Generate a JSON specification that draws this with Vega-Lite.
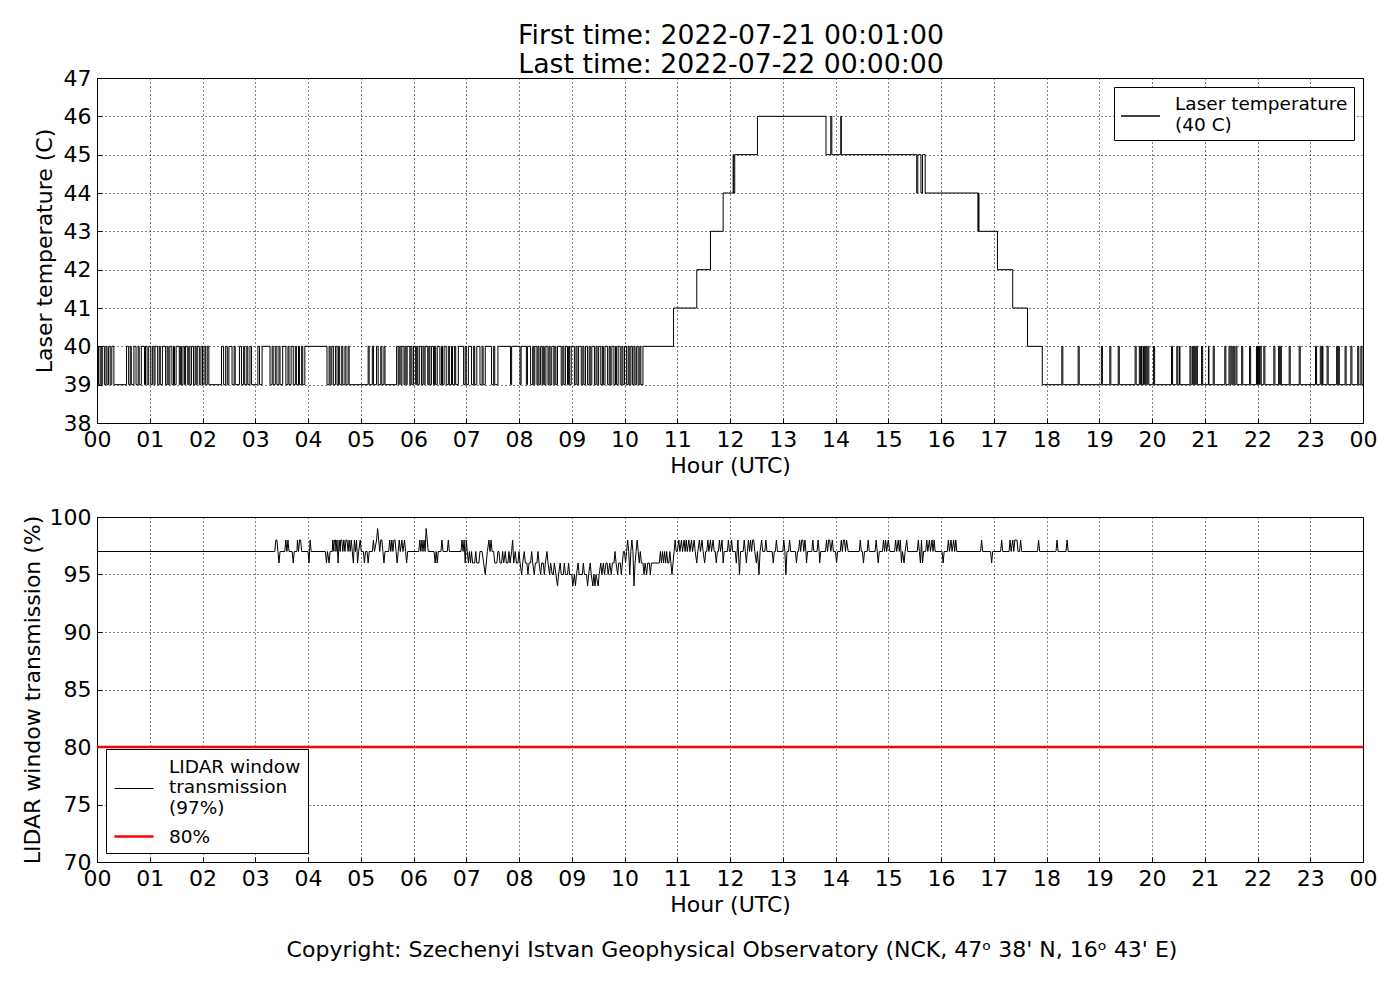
{
  "$schema": "https://vega.github.io/schema/vega-lite/v6.json",
  "padding": {"left": 20, "top": 22, "right": 20, "bottom": 10},
  "background": "white",
  "title": {
    "text": ["First time: 2022-07-21 00:01:00", "Last time: 2022-07-22 00:00:00"],
    "fontSize": 26.7,
    "fontWeight": "normal",
    "font": "DejaVu Sans",
    "color": "black",
    "lineHeight": 29,
    "anchor": "middle",
    "dx": 32,
    "offset": -12
  },
  "config": {
    "font": "DejaVu Sans",
    "view": {"stroke": "black", "strokeWidth": 1},
    "axis": {
      "labelFont": "DejaVu Sans",
      "labelFontSize": 22,
      "labelColor": "black",
      "labelFlush": false,
      "titleFont": "DejaVu Sans",
      "titleFontSize": 22,
      "titleFontWeight": "normal",
      "titleColor": "black",
      "grid": true,
      "gridColor": "black",
      "gridDash": [1, 3],
      "gridOpacity": 1,
      "gridWidth": 1,
      "domain": false,
      "ticks": true,
      "tickSize": -5,
      "tickColor": "black",
      "labelPadding": 11,
      "titlePadding": 5
    },
    "legend": {
      "labelFont": "DejaVu Sans",
      "labelFontSize": 18.5,
      "labelColor": "black",
      "symbolType": "stroke",
      "symbolSize": 400,
      "strokeColor": "black",
      "fillColor": "white",
      "padding": 6,
      "cornerRadius": 0,
      "labelOffset": 33,
      "rowPadding": 8,
      "offset": 9,
      "labelLimit": 400
    }
  },
  "datasets": {
    "temp": [
      {"t":0,"v":40},{"t":0.03,"v":39},{"t":0.06,"v":40},{"t":0.08,"v":39},{"t":0.10,"v":40},{"t":0.14,"v":39},{"t":0.17,"v":40},{"t":0.19,"v":39},{"t":0.22,"v":40},{"t":0.25,"v":39},{"t":0.28,"v":40},{"t":0.32,"v":39},{"t":0.56,"v":40},{"t":0.60,"v":39},{"t":0.63,"v":40},{"t":0.65,"v":39},{"t":0.70,"v":40},{"t":0.74,"v":39},{"t":0.78,"v":40},{"t":0.80,"v":39},{"t":0.84,"v":40},{"t":0.90,"v":39},{"t":0.92,"v":40},{"t":0.95,"v":39},{"t":0.98,"v":40},{"t":1.02,"v":39},
      {"t":1.05,"v":40},{"t":1.08,"v":39},{"t":1.10,"v":40},{"t":1.15,"v":39},{"t":1.18,"v":40},{"t":1.20,"v":39},{"t":1.24,"v":40},{"t":1.30,"v":39},{"t":1.33,"v":40},{"t":1.35,"v":39},{"t":1.38,"v":40},{"t":1.42,"v":39},{"t":1.45,"v":40},{"t":1.47,"v":39},{"t":1.50,"v":40},{"t":1.56,"v":39},{"t":1.58,"v":40},{"t":1.60,"v":39},{"t":1.63,"v":40},{"t":1.66,"v":39},{"t":1.68,"v":40},{"t":1.72,"v":39},{"t":1.74,"v":40},{"t":1.76,"v":39},{"t":1.79,"v":40},{"t":1.83,"v":39},{"t":1.86,"v":40},{"t":1.88,"v":39},{"t":1.90,"v":40},{"t":1.94,"v":39},{"t":1.97,"v":40},{"t":2.00,"v":39},
      {"t":2.03,"v":40},{"t":2.06,"v":39},{"t":2.09,"v":40},{"t":2.12,"v":39},{"t":2.36,"v":40},{"t":2.40,"v":39},{"t":2.44,"v":40},{"t":2.47,"v":39},{"t":2.50,"v":40},{"t":2.56,"v":39},{"t":2.60,"v":40},{"t":2.62,"v":39},{"t":2.70,"v":40},{"t":2.74,"v":39},{"t":2.78,"v":40},{"t":2.80,"v":39},{"t":2.84,"v":40},{"t":2.86,"v":39},{"t":2.90,"v":40},{"t":2.93,"v":39},
      {"t":3.05,"v":40},{"t":3.08,"v":39},{"t":3.13,"v":40},{"t":3.28,"v":39},{"t":3.32,"v":40},{"t":3.34,"v":39},{"t":3.38,"v":40},{"t":3.41,"v":39},{"t":3.45,"v":40},{"t":3.47,"v":39},{"t":3.52,"v":40},{"t":3.58,"v":39},{"t":3.62,"v":40},{"t":3.64,"v":39},{"t":3.68,"v":40},{"t":3.72,"v":39},{"t":3.76,"v":40},{"t":3.78,"v":39},{"t":3.82,"v":40},{"t":3.84,"v":39},{"t":3.88,"v":40},{"t":3.90,"v":39},{"t":3.94,"v":40},{"t":4.36,"v":39},
      {"t":4.40,"v":40},{"t":4.42,"v":39},{"t":4.45,"v":40},{"t":4.48,"v":39},{"t":4.52,"v":40},{"t":4.55,"v":39},{"t":4.58,"v":40},{"t":4.60,"v":39},{"t":4.64,"v":40},{"t":4.66,"v":39},{"t":4.70,"v":40},{"t":4.72,"v":39},{"t":4.76,"v":40},{"t":4.78,"v":39},
      {"t":5.14,"v":40},{"t":5.16,"v":39},{"t":5.22,"v":40},{"t":5.24,"v":39},{"t":5.30,"v":40},{"t":5.33,"v":39},{"t":5.38,"v":40},{"t":5.40,"v":39},{"t":5.44,"v":40},{"t":5.46,"v":39},{"t":5.68,"v":40},{"t":5.71,"v":39},{"t":5.73,"v":40},{"t":5.76,"v":39},{"t":5.78,"v":40},{"t":5.82,"v":39},{"t":5.84,"v":40},{"t":5.86,"v":39},{"t":5.88,"v":40},{"t":5.93,"v":39},{"t":5.95,"v":40},{"t":5.97,"v":39},
      {"t":6.00,"v":40},{"t":6.04,"v":39},{"t":6.06,"v":40},{"t":6.08,"v":39},{"t":6.11,"v":40},{"t":6.15,"v":39},{"t":6.18,"v":40},{"t":6.20,"v":39},{"t":6.22,"v":40},{"t":6.27,"v":39},{"t":6.29,"v":40},{"t":6.31,"v":39},{"t":6.34,"v":40},{"t":6.38,"v":39},{"t":6.40,"v":40},{"t":6.42,"v":39},{"t":6.45,"v":40},{"t":6.50,"v":39},{"t":6.53,"v":40},{"t":6.55,"v":39},{"t":6.58,"v":40},{"t":6.62,"v":39},{"t":6.66,"v":40},{"t":6.68,"v":39},{"t":6.72,"v":40},{"t":6.74,"v":39},{"t":6.78,"v":40},{"t":6.80,"v":39},{"t":6.85,"v":40},{"t":6.95,"v":39},{"t":6.98,"v":40},{"t":7.00,"v":39},
      {"t":7.04,"v":40},{"t":7.10,"v":39},{"t":7.14,"v":40},{"t":7.16,"v":39},{"t":7.20,"v":40},{"t":7.26,"v":39},{"t":7.30,"v":40},{"t":7.32,"v":39},{"t":7.36,"v":40},{"t":7.48,"v":39},{"t":7.52,"v":40},{"t":7.54,"v":39},{"t":7.60,"v":40},{"t":7.84,"v":39},{"t":7.86,"v":40},{"t":8.02,"v":39},{"t":8.04,"v":40},{"t":8.14,"v":39},{"t":8.16,"v":40},{"t":8.22,"v":39},
      {"t":8.26,"v":40},{"t":8.28,"v":39},{"t":8.30,"v":40},{"t":8.34,"v":39},{"t":8.36,"v":40},{"t":8.38,"v":39},{"t":8.41,"v":40},{"t":8.44,"v":39},{"t":8.46,"v":40},{"t":8.48,"v":39},{"t":8.51,"v":40},{"t":8.55,"v":39},{"t":8.57,"v":40},{"t":8.59,"v":39},{"t":8.62,"v":40},{"t":8.66,"v":39},{"t":8.68,"v":40},{"t":8.70,"v":39},{"t":8.73,"v":40},{"t":8.80,"v":39},{"t":8.83,"v":40},{"t":8.85,"v":39},{"t":8.88,"v":40},{"t":8.92,"v":39},{"t":8.94,"v":40},{"t":8.96,"v":39},{"t":8.99,"v":40},{"t":9.05,"v":39},
      {"t":9.08,"v":40},{"t":9.10,"v":39},{"t":9.13,"v":40},{"t":9.18,"v":39},{"t":9.21,"v":40},{"t":9.23,"v":39},{"t":9.26,"v":40},{"t":9.30,"v":39},{"t":9.33,"v":40},{"t":9.35,"v":39},{"t":9.38,"v":40},{"t":9.43,"v":39},{"t":9.46,"v":40},{"t":9.48,"v":39},{"t":9.51,"v":40},{"t":9.55,"v":39},{"t":9.58,"v":40},{"t":9.60,"v":39},{"t":9.63,"v":40},{"t":9.68,"v":39},{"t":9.71,"v":40},{"t":9.73,"v":39},{"t":9.76,"v":40},{"t":9.80,"v":39},{"t":9.83,"v":40},{"t":9.85,"v":39},{"t":9.88,"v":40},{"t":9.92,"v":39},{"t":9.95,"v":40},{"t":9.97,"v":39},
      {"t":10.00,"v":40},{"t":10.04,"v":39},{"t":10.07,"v":40},{"t":10.09,"v":39},{"t":10.12,"v":40},{"t":10.15,"v":39},{"t":10.18,"v":40},{"t":10.20,"v":39},{"t":10.23,"v":40},{"t":10.26,"v":39},{"t":10.29,"v":40},{"t":10.31,"v":39},{"t":10.35,"v":40},
      {"t":10.93,"v":41},{"t":11.37,"v":42},{"t":11.63,"v":43},{"t":11.87,"v":44},{"t":12.06,"v":45},{"t":12.07,"v":44},{"t":12.09,"v":45},{"t":12.52,"v":46},{"t":13.82,"v":45},{"t":13.91,"v":46},{"t":13.93,"v":45},{"t":14.10,"v":46},{"t":14.11,"v":45},{"t":15.54,"v":44},{"t":15.56,"v":45},{"t":15.62,"v":44},{"t":15.65,"v":45},{"t":15.70,"v":44},{"t":16.70,"v":43},{"t":16.71,"v":44},{"t":16.72,"v":43},{"t":17.07,"v":42},{"t":17.36,"v":41},{"t":17.64,"v":40},{"t":17.92,"v":39},
      {"t":18.29,"v":40},{"t":18.31,"v":39},{"t":18.60,"v":40},{"t":18.62,"v":39},{"t":19.04,"v":40},{"t":19.06,"v":39},{"t":19.20,"v":40},{"t":19.22,"v":39},{"t":19.36,"v":40},{"t":19.38,"v":39},{"t":19.68,"v":40},{"t":19.70,"v":39},{"t":19.76,"v":40},{"t":19.78,"v":39},{"t":19.80,"v":40},{"t":19.81,"v":39},{"t":19.84,"v":40},{"t":19.86,"v":39},{"t":19.88,"v":40},{"t":19.90,"v":39},{"t":19.92,"v":40},{"t":19.94,"v":39},
      {"t":20.03,"v":40},{"t":20.05,"v":39},{"t":20.37,"v":40},{"t":20.39,"v":39},{"t":20.47,"v":40},{"t":20.49,"v":39},{"t":20.52,"v":40},{"t":20.53,"v":39},{"t":20.72,"v":40},{"t":20.74,"v":39},{"t":20.77,"v":40},{"t":20.79,"v":39},{"t":20.81,"v":40},{"t":20.82,"v":39},{"t":20.84,"v":40},{"t":20.86,"v":39},{"t":20.94,"v":40},{"t":20.96,"v":39},
      {"t":21.07,"v":40},{"t":21.08,"v":39},{"t":21.16,"v":40},{"t":21.18,"v":39},{"t":21.38,"v":40},{"t":21.40,"v":39},{"t":21.46,"v":40},{"t":21.48,"v":39},{"t":21.50,"v":40},{"t":21.52,"v":39},{"t":21.54,"v":40},{"t":21.56,"v":39},{"t":21.59,"v":40},{"t":21.61,"v":39},{"t":21.70,"v":40},{"t":21.72,"v":39},{"t":21.85,"v":40},{"t":21.87,"v":39},{"t":21.98,"v":40},{"t":22.00,"v":39},
      {"t":22.02,"v":40},{"t":22.04,"v":39},{"t":22.05,"v":40},{"t":22.07,"v":39},{"t":22.12,"v":40},{"t":22.14,"v":39},{"t":22.31,"v":40},{"t":22.33,"v":39},{"t":22.40,"v":40},{"t":22.42,"v":39},{"t":22.44,"v":40},{"t":22.45,"v":39},{"t":22.60,"v":40},{"t":22.62,"v":39},{"t":22.79,"v":40},{"t":22.81,"v":39},
      {"t":23.10,"v":40},{"t":23.12,"v":39},{"t":23.19,"v":40},{"t":23.21,"v":39},{"t":23.23,"v":40},{"t":23.24,"v":39},{"t":23.32,"v":40},{"t":23.34,"v":39},{"t":23.50,"v":40},{"t":23.52,"v":39},{"t":23.54,"v":40},{"t":23.55,"v":39},{"t":23.66,"v":40},{"t":23.68,"v":39},{"t":23.77,"v":40},{"t":23.79,"v":39},{"t":23.90,"v":40},{"t":23.92,"v":39},{"t":23.96,"v":40},{"t":23.98,"v":39},{"t":24,"v":39}
    ],
    "trans": [
      {"t":0,"v":97},{"t":3.37,"v":97},{"t":3.39,"v":98},{"t":3.41,"v":98},{"t":3.43,"v":97},{"t":3.45,"v":96},{"t":3.47,"v":97},{"t":3.56,"v":97},{"t":3.58,"v":98},{"t":3.60,"v":97},{"t":3.62,"v":98},{"t":3.64,"v":97},{"t":3.70,"v":97},{"t":3.72,"v":96},{"t":3.74,"v":97},{"t":3.79,"v":97},{"t":3.80,"v":98},{"t":3.82,"v":97},{"t":3.84,"v":98},{"t":3.86,"v":98},{"t":3.88,"v":97},
      {"t":4.00,"v":97},{"t":4.02,"v":96},{"t":4.04,"v":98},{"t":4.06,"v":97},{"t":4.33,"v":97},{"t":4.35,"v":96},{"t":4.37,"v":97},{"t":4.40,"v":96},{"t":4.42,"v":97},{"t":4.46,"v":97},{"t":4.47,"v":98},{"t":4.49,"v":97},{"t":4.50,"v":98},{"t":4.52,"v":98},{"t":4.53,"v":97},{"t":4.55,"v":98},{"t":4.57,"v":96},{"t":4.59,"v":98},{"t":4.61,"v":97},{"t":4.62,"v":98},{"t":4.64,"v":98},{"t":4.66,"v":97},{"t":4.68,"v":98},{"t":4.70,"v":97},{"t":4.72,"v":98},{"t":4.74,"v":98},{"t":4.76,"v":97},{"t":4.78,"v":98},{"t":4.80,"v":97},{"t":4.82,"v":98},{"t":4.84,"v":97},{"t":4.86,"v":96},{"t":4.88,"v":98},{"t":4.90,"v":97},{"t":4.92,"v":98},{"t":4.94,"v":96},{"t":4.96,"v":97},{"t":4.99,"v":98},{"t":5.01,"v":97},
      {"t":5.05,"v":97},{"t":5.07,"v":96},{"t":5.09,"v":97},{"t":5.12,"v":97},{"t":5.14,"v":96},{"t":5.16,"v":97},{"t":5.22,"v":97},{"t":5.24,"v":98},{"t":5.26,"v":97},{"t":5.30,"v":98},{"t":5.32,"v":99},{"t":5.34,"v":98},{"t":5.36,"v":97},{"t":5.38,"v":98},{"t":5.40,"v":98},{"t":5.42,"v":97},{"t":5.44,"v":96},{"t":5.46,"v":97},{"t":5.53,"v":97},{"t":5.55,"v":98},{"t":5.57,"v":97},{"t":5.59,"v":98},{"t":5.61,"v":97},{"t":5.63,"v":98},{"t":5.65,"v":98},{"t":5.67,"v":97},{"t":5.69,"v":96},{"t":5.71,"v":97},{"t":5.73,"v":98},{"t":5.75,"v":97},{"t":5.78,"v":98},{"t":5.80,"v":97},{"t":5.83,"v":98},{"t":5.85,"v":97},{"t":5.87,"v":96},{"t":5.89,"v":97},
      {"t":6.10,"v":97},{"t":6.12,"v":98},{"t":6.14,"v":97},{"t":6.16,"v":98},{"t":6.18,"v":97},{"t":6.20,"v":98},{"t":6.22,"v":97},{"t":6.24,"v":99},{"t":6.26,"v":98},{"t":6.28,"v":97},{"t":6.39,"v":97},{"t":6.41,"v":96},{"t":6.43,"v":97},{"t":6.45,"v":96},{"t":6.47,"v":97},{"t":6.52,"v":97},{"t":6.54,"v":98},{"t":6.56,"v":97},{"t":6.64,"v":97},{"t":6.66,"v":98},{"t":6.68,"v":97},{"t":6.90,"v":97},{"t":6.92,"v":98},{"t":6.94,"v":97},{"t":6.96,"v":98},{"t":6.98,"v":96},{"t":7.00,"v":98},{"t":7.02,"v":97},{"t":7.04,"v":96},{"t":7.06,"v":97},{"t":7.08,"v":96},{"t":7.10,"v":97},{"t":7.12,"v":96},{"t":7.16,"v":96},{"t":7.18,"v":97},{"t":7.20,"v":96},{"t":7.24,"v":96},{"t":7.26,"v":97},{"t":7.30,"v":97},{"t":7.33,"v":96},{"t":7.36,"v":95},{"t":7.38,"v":96},{"t":7.40,"v":97},{"t":7.43,"v":98},{"t":7.45,"v":97},{"t":7.47,"v":98},{"t":7.49,"v":97},{"t":7.52,"v":97},{"t":7.54,"v":96},{"t":7.58,"v":96},{"t":7.60,"v":97},{"t":7.62,"v":97},{"t":7.64,"v":96},{"t":7.67,"v":96},{"t":7.69,"v":97},{"t":7.71,"v":96},{"t":7.74,"v":97},{"t":7.76,"v":96},{"t":7.79,"v":96},{"t":7.81,"v":97},{"t":7.83,"v":96},{"t":7.86,"v":97},{"t":7.88,"v":98},{"t":7.90,"v":96},{"t":7.93,"v":97},{"t":7.95,"v":96},{"t":7.98,"v":96},
      {"t":8.00,"v":97},{"t":8.02,"v":96},{"t":8.05,"v":95},{"t":8.07,"v":96},{"t":8.10,"v":97},{"t":8.12,"v":96},{"t":8.15,"v":96},{"t":8.17,"v":95},{"t":8.19,"v":96},{"t":8.22,"v":96},{"t":8.24,"v":97},{"t":8.26,"v":96},{"t":8.29,"v":95},{"t":8.31,"v":96},{"t":8.34,"v":96},{"t":8.36,"v":97},{"t":8.38,"v":96},{"t":8.41,"v":95},{"t":8.43,"v":96},{"t":8.46,"v":96},{"t":8.48,"v":95},{"t":8.50,"v":96},{"t":8.53,"v":97},{"t":8.55,"v":96},{"t":8.58,"v":95},{"t":8.60,"v":96},{"t":8.63,"v":95},{"t":8.65,"v":95},{"t":8.67,"v":96},{"t":8.70,"v":95},{"t":8.73,"v":94},{"t":8.75,"v":95},{"t":8.78,"v":96},{"t":8.80,"v":95},{"t":8.84,"v":95},{"t":8.86,"v":96},{"t":8.88,"v":95},{"t":8.92,"v":95},{"t":8.94,"v":96},{"t":8.96,"v":95},
      {"t":9.00,"v":95},{"t":9.02,"v":94},{"t":9.05,"v":95},{"t":9.07,"v":94},{"t":9.09,"v":95},{"t":9.12,"v":96},{"t":9.14,"v":95},{"t":9.20,"v":95},{"t":9.22,"v":96},{"t":9.24,"v":95},{"t":9.28,"v":95},{"t":9.30,"v":94},{"t":9.32,"v":95},{"t":9.35,"v":96},{"t":9.37,"v":95},{"t":9.40,"v":94},{"t":9.42,"v":95},{"t":9.44,"v":94},{"t":9.46,"v":95},{"t":9.50,"v":94},{"t":9.52,"v":95},{"t":9.55,"v":96},{"t":9.57,"v":95},{"t":9.60,"v":96},{"t":9.62,"v":95},{"t":9.65,"v":96},{"t":9.67,"v":96},{"t":9.69,"v":95},{"t":9.72,"v":96},{"t":9.75,"v":95},{"t":9.77,"v":96},{"t":9.80,"v":96},{"t":9.82,"v":97},{"t":9.84,"v":96},{"t":9.87,"v":95},{"t":9.89,"v":96},{"t":9.92,"v":96},{"t":9.94,"v":95},{"t":9.96,"v":96},{"t":9.98,"v":97},
      {"t":10.00,"v":97},{"t":10.02,"v":96},{"t":10.04,"v":97},{"t":10.06,"v":98},{"t":10.08,"v":97},{"t":10.10,"v":95},{"t":10.12,"v":97},{"t":10.14,"v":98},{"t":10.16,"v":97},{"t":10.18,"v":94},{"t":10.20,"v":96},{"t":10.22,"v":97},{"t":10.24,"v":98},{"t":10.26,"v":97},{"t":10.28,"v":96},{"t":10.30,"v":97},{"t":10.32,"v":96},{"t":10.35,"v":96},{"t":10.37,"v":95},{"t":10.39,"v":96},{"t":10.42,"v":95},{"t":10.44,"v":96},{"t":10.47,"v":96},{"t":10.49,"v":95},{"t":10.51,"v":96},{"t":10.54,"v":96},{"t":10.66,"v":96},{"t":10.68,"v":97},{"t":10.70,"v":96},{"t":10.72,"v":97},{"t":10.74,"v":96},{"t":10.76,"v":97},{"t":10.78,"v":96},{"t":10.80,"v":97},{"t":10.82,"v":96},{"t":10.84,"v":96},{"t":10.86,"v":97},{"t":10.88,"v":96},{"t":10.90,"v":95},{"t":10.92,"v":96},{"t":10.94,"v":97},{"t":10.96,"v":98},{"t":10.98,"v":97},
      {"t":11.00,"v":97},{"t":11.03,"v":98},{"t":11.05,"v":97},{"t":11.08,"v":98},{"t":11.10,"v":97},{"t":11.13,"v":98},{"t":11.15,"v":97},{"t":11.17,"v":98},{"t":11.19,"v":97},{"t":11.22,"v":98},{"t":11.24,"v":97},{"t":11.27,"v":98},{"t":11.29,"v":97},{"t":11.32,"v":98},{"t":11.34,"v":97},{"t":11.37,"v":96},{"t":11.39,"v":97},{"t":11.42,"v":98},{"t":11.44,"v":97},{"t":11.47,"v":98},{"t":11.49,"v":97},{"t":11.52,"v":96},{"t":11.54,"v":97},{"t":11.56,"v":97},{"t":11.58,"v":98},{"t":11.60,"v":97},{"t":11.63,"v":98},{"t":11.65,"v":97},{"t":11.68,"v":98},{"t":11.70,"v":97},{"t":11.72,"v":97},{"t":11.74,"v":96},{"t":11.76,"v":97},{"t":11.78,"v":97},{"t":11.80,"v":98},{"t":11.82,"v":97},{"t":11.85,"v":98},{"t":11.87,"v":96},{"t":11.89,"v":97},{"t":11.95,"v":97},{"t":11.97,"v":98},{"t":11.99,"v":97},
      {"t":12.01,"v":97},{"t":12.03,"v":98},{"t":12.05,"v":97},{"t":12.10,"v":97},{"t":12.12,"v":96},{"t":12.15,"v":98},{"t":12.18,"v":95},{"t":12.20,"v":97},{"t":12.25,"v":97},{"t":12.27,"v":98},{"t":12.29,"v":97},{"t":12.31,"v":96},{"t":12.33,"v":97},{"t":12.35,"v":98},{"t":12.37,"v":97},{"t":12.39,"v":98},{"t":12.41,"v":97},{"t":12.43,"v":98},{"t":12.45,"v":98},{"t":12.47,"v":97},{"t":12.50,"v":96},{"t":12.52,"v":97},{"t":12.55,"v":95},{"t":12.57,"v":97},{"t":12.60,"v":98},{"t":12.62,"v":97},{"t":12.66,"v":97},{"t":12.68,"v":98},{"t":12.70,"v":97},{"t":12.80,"v":97},{"t":12.82,"v":96},{"t":12.84,"v":97},{"t":12.86,"v":97},{"t":12.88,"v":98},{"t":12.90,"v":97},
      {"t":13.00,"v":97},{"t":13.02,"v":98},{"t":13.04,"v":97},{"t":13.06,"v":95},{"t":13.08,"v":97},{"t":13.11,"v":97},{"t":13.13,"v":98},{"t":13.15,"v":97},{"t":13.24,"v":97},{"t":13.26,"v":96},{"t":13.28,"v":97},{"t":13.30,"v":97},{"t":13.32,"v":98},{"t":13.34,"v":97},{"t":13.36,"v":98},{"t":13.38,"v":98},{"t":13.40,"v":97},{"t":13.42,"v":98},{"t":13.44,"v":97},{"t":13.45,"v":96},{"t":13.47,"v":97},{"t":13.55,"v":97},{"t":13.57,"v":98},{"t":13.59,"v":97},{"t":13.65,"v":97},{"t":13.67,"v":98},{"t":13.69,"v":97},{"t":13.70,"v":96},{"t":13.72,"v":97},{"t":13.81,"v":97},{"t":13.83,"v":98},{"t":13.85,"v":97},{"t":13.87,"v":98},{"t":13.89,"v":98},{"t":13.91,"v":97},{"t":13.94,"v":98},{"t":13.96,"v":97},
      {"t":14.00,"v":97},{"t":14.02,"v":96},{"t":14.04,"v":97},{"t":14.09,"v":97},{"t":14.11,"v":98},{"t":14.13,"v":97},{"t":14.15,"v":98},{"t":14.17,"v":98},{"t":14.19,"v":97},{"t":14.21,"v":98},{"t":14.24,"v":97},{"t":14.45,"v":97},{"t":14.47,"v":98},{"t":14.49,"v":97},{"t":14.51,"v":97},{"t":14.53,"v":96},{"t":14.55,"v":97},{"t":14.60,"v":97},{"t":14.62,"v":98},{"t":14.64,"v":97},{"t":14.75,"v":97},{"t":14.77,"v":98},{"t":14.79,"v":97},{"t":14.81,"v":96},{"t":14.83,"v":97},{"t":14.89,"v":97},{"t":14.91,"v":98},{"t":14.93,"v":97},{"t":14.95,"v":98},{"t":14.97,"v":97},
      {"t":15.00,"v":98},{"t":15.03,"v":97},{"t":15.12,"v":97},{"t":15.14,"v":98},{"t":15.16,"v":97},{"t":15.19,"v":98},{"t":15.21,"v":97},{"t":15.23,"v":98},{"t":15.25,"v":96},{"t":15.27,"v":97},{"t":15.30,"v":96},{"t":15.32,"v":97},{"t":15.35,"v":98},{"t":15.37,"v":97},{"t":15.55,"v":97},{"t":15.57,"v":98},{"t":15.59,"v":97},{"t":15.61,"v":96},{"t":15.63,"v":98},{"t":15.65,"v":96},{"t":15.67,"v":97},{"t":15.71,"v":97},{"t":15.73,"v":98},{"t":15.75,"v":97},{"t":15.78,"v":98},{"t":15.80,"v":97},{"t":15.83,"v":98},{"t":15.85,"v":97},{"t":15.87,"v":98},{"t":15.89,"v":97},
      {"t":16.02,"v":97},{"t":16.04,"v":96},{"t":16.06,"v":97},{"t":16.12,"v":97},{"t":16.14,"v":98},{"t":16.16,"v":97},{"t":16.19,"v":98},{"t":16.21,"v":97},{"t":16.24,"v":98},{"t":16.26,"v":97},{"t":16.28,"v":98},{"t":16.30,"v":97},{"t":16.75,"v":97},{"t":16.77,"v":98},{"t":16.79,"v":97},{"t":16.94,"v":97},{"t":16.96,"v":96},{"t":16.98,"v":97},
      {"t":17.13,"v":97},{"t":17.15,"v":98},{"t":17.17,"v":97},{"t":17.29,"v":97},{"t":17.31,"v":98},{"t":17.33,"v":97},{"t":17.36,"v":98},{"t":17.38,"v":97},{"t":17.40,"v":98},{"t":17.44,"v":98},{"t":17.46,"v":97},{"t":17.49,"v":97},{"t":17.51,"v":98},{"t":17.53,"v":97},{"t":17.83,"v":97},{"t":17.85,"v":98},{"t":17.87,"v":97},{"t":18.18,"v":97},{"t":18.20,"v":98},{"t":18.22,"v":97},{"t":18.37,"v":97},{"t":18.39,"v":98},{"t":18.41,"v":97},{"t":24,"v":97}
    ]
  },
  "resolve": {
    "scale": {"color": "independent", "strokeWidth": "independent"},
    "legend": {"color": "independent", "strokeWidth": "independent"}
  },
  "spacing": 28,
  "vconcat": [
    {
      "width": 1266,
      "height": 345,
      "data": {"name": "temp"},
      "mark": {"type": "line", "interpolate": "step-after", "strokeWidth": 1},
      "encoding": {
        "x": {
          "field": "t",
          "type": "quantitative",
          "title": "Hour (UTC)",
          "scale": {"domain": [0, 24], "nice": false},
          "axis": {
            "values": [0,1,2,3,4,5,6,7,8,9,10,11,12,13,14,15,16,17,18,19,20,21,22,23,24],
            "labelExpr": "datum.value == 24 ? '00' : (datum.value < 10 ? '0' + datum.value : '' + datum.value)"
          }
        },
        "y": {
          "field": "v",
          "type": "quantitative",
          "title": "Laser temperature (C)",
          "scale": {"domain": [38, 47], "nice": false, "zero": false},
          "axis": {"values": [38,39,40,41,42,43,44,45,46,47], "titlePadding": 7}
        },
        "color": {
          "datum": "Laser temperature|(40 C)",
          "type": "nominal",
          "scale": {"range": ["black"]},
          "legend": {
            "orient": "top-right",
            "title": null,
            "padding": 6,
            "labelExpr": "split(datum.label, '|')",
            "encode": {"symbols": {"update": {"shape": {"value": "M-1,1.2H2.9"}}}}
          }
        }
      }
    },
    {
      "width": 1266,
      "height": 345,
      "title": {
        "text": "Copyright: Szechenyi Istvan Geophysical Observatory (NCK, 47ᵒ 38' N, 16ᵒ 43' E)",
        "orient": "bottom",
        "fontSize": 22,
        "fontWeight": "normal",
        "font": "DejaVu Sans",
        "color": "black",
        "anchor": "middle",
        "dx": 2,
        "offset": 25
      },
      "layer": [
        {
          "data": {"name": "trans"},
          "mark": {"type": "line"},
          "encoding": {
            "x": {
              "field": "t",
              "type": "quantitative",
              "title": "Hour (UTC)",
              "scale": {"domain": [0, 24], "nice": false},
              "axis": {
                "values": [0,1,2,3,4,5,6,7,8,9,10,11,12,13,14,15,16,17,18,19,20,21,22,23,24],
                "labelExpr": "datum.value == 24 ? '00' : (datum.value < 10 ? '0' + datum.value : '' + datum.value)"
              }
            },
            "y": {
              "field": "v",
              "type": "quantitative",
              "title": "LIDAR window transmission (%)",
              "scale": {"domain": [70, 100], "nice": false, "zero": false},
              "axis": {"values": [70,75,80,85,90,95,100]}
            },
            "color": {
              "datum": "LIDAR window|transmission|(97%)",
              "type": "nominal",
              "scale": {"domain": ["LIDAR window|transmission|(97%)", "80%"], "range": ["black", "#ff0000"]},
              "legend": {
                "orient": "bottom-left",
                "title": null,
                "padding": 7,
                "labelExpr": "split(datum.label, '|')",
                "encode": {"symbols": {"update": {"shape": {"signal": "indexof(datum.value, '|') >= 0 ? 'M-1,2.2H2.9' : 'M-1,0H2.9'"}}}}
              }
            },
            "strokeWidth": {
              "datum": "LIDAR window|transmission|(97%)",
              "type": "nominal",
              "scale": {"domain": ["LIDAR window|transmission|(97%)", "80%"], "range": [1, 2.5]},
              "legend": {
                "orient": "bottom-left",
                "title": null,
                "padding": 7,
                "labelExpr": "split(datum.label, '|')",
                "encode": {"symbols": {"update": {"shape": {"signal": "indexof(datum.value, '|') >= 0 ? 'M-1,2.2H2.9' : 'M-1,0H2.9'"}}}}
              }
            }
          }
        },
        {
          "data": {"values": [{"v": 80}]},
          "mark": {"type": "rule"},
          "encoding": {
            "y": {"field": "v", "type": "quantitative"},
            "color": {"datum": "80%", "type": "nominal"},
            "strokeWidth": {"datum": "80%", "type": "nominal"}
          }
        }
      ]
    }
  ]
}
